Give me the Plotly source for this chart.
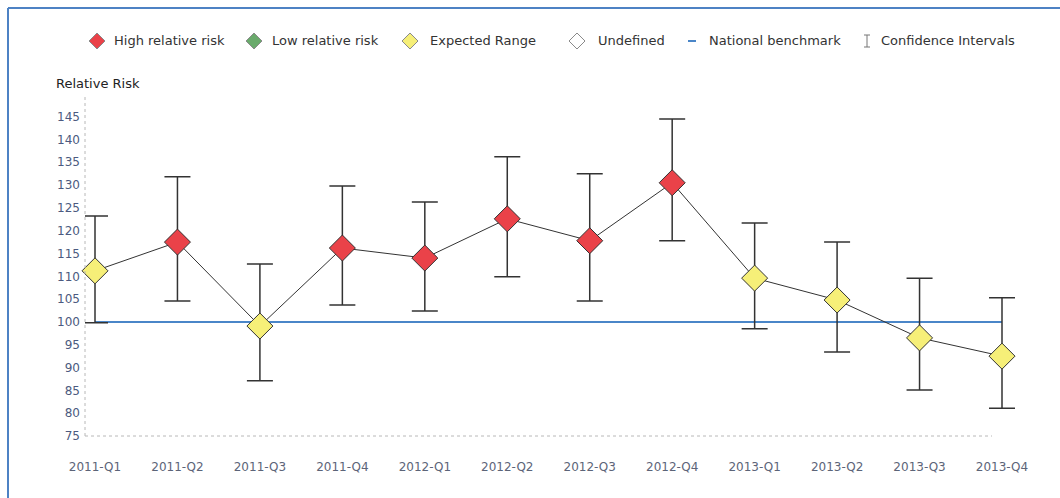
import plotly.graph_objects as go

# ---- data -------------------------------------------------------------
quarters = ["2011-Q1", "2011-Q2", "2011-Q3", "2011-Q4",
            "2012-Q1", "2012-Q2", "2012-Q3", "2012-Q4",
            "2013-Q1", "2013-Q2", "2013-Q3", "2013-Q4"]
relative_risk = [111.2, 117.5, 99.1, 116.2, 114.0, 122.6, 117.8, 130.5, 109.6, 104.8, 96.5, 92.5]
ci_upper = [123.2, 131.8, 112.7, 129.8, 126.3, 136.2, 132.5, 144.5, 121.7, 117.5, 109.6, 105.3]
ci_lower = [99.8, 104.6, 87.1, 103.7, 102.4, 109.9, 104.6, 117.8, 98.5, 93.4, 85.1, 81.1]
status = ["Expected", "High", "Expected", "High", "High", "High",
          "High", "High", "Expected", "Expected", "Expected", "Expected"]
benchmark = 100
y_ticks = [75, 80, 85, 90, 95, 100, 105, 110, 115, 120, 125, 130, 135, 140, 145]

legend_items = ["High relative risk", "Low relative risk", "Expected Range",
                "Undefined", "National benchmark", "Confidence Intervals"]

# ---- styling ----------------------------------------------------------
status_colors = {"High": "#ea4249", "Low": "#6aaa6c", "Expected": "#f6ef78", "Undefined": "#ffffff"}
FONT = "DejaVu Sans"
W, H = 1060, 498
L, R, T, B = 85, 30, 97, 62
PW, PH = W - L - R, H - T - B
STEP = 907 / 11          # pixels between neighbouring quarters


def px_x(px):
    return (px - L) / PW


def px_y(py):
    return (H - B - py) / PH


fig = go.Figure()

# national benchmark across all quarters
fig.add_trace(go.Scatter(
    x=quarters, y=[benchmark] * len(quarters), mode="lines",
    line=dict(color="#4a86c8", width=2), hoverinfo="skip", showlegend=False))

# connecting line
fig.add_trace(go.Scatter(
    x=quarters, y=relative_risk, mode="lines",
    line=dict(color="#333333", width=1), hoverinfo="skip", showlegend=False))

# diamonds with confidence intervals
fig.add_trace(go.Scatter(
    x=quarters, y=relative_risk, mode="markers",
    marker=dict(symbol="diamond", size=20,
                color=[status_colors[s] for s in status],
                line=dict(color="#333333", width=1)),
    error_y=dict(type="data", symmetric=False,
                 array=[u - v for u, v in zip(ci_upper, relative_risk)],
                 arrayminus=[v - lo for v, lo in zip(relative_risk, ci_lower)],
                 color="#333333", thickness=1.5, width=13),
    cliponaxis=False, showlegend=False))

shapes = []
annotations = []

# dotted axis lines
shapes.append(dict(type="line", xref="paper", yref="paper", x0=0, x1=px_x(992),
                   y0=0, y1=0, line=dict(color="#b8b8b8", width=1, dash="dot")))
shapes.append(dict(type="line", xref="paper", yref="paper", x0=0, x1=0,
                   y0=0, y1=1, line=dict(color="#b8b8b8", width=1, dash="dot")))

# outer frame (left and top)
shapes.append(dict(type="line", xref="paper", yref="paper", x0=px_x(8), x1=px_x(8),
                   y0=px_y(8), y1=px_y(498), line=dict(color="#4d82c4", width=2)))
shapes.append(dict(type="line", xref="paper", yref="paper", x0=px_x(8), x1=px_x(1060),
                   y0=px_y(8), y1=px_y(8), line=dict(color="#4d82c4", width=2)))

# legend row
leg_y = px_y(41)
diamond_path = "M 0,8 L 8,0 L 0,-8 L -8,0 Z"
icon_x = [97, 254, 410, 577, 692, 867]
text_x = [112, 270, 428, 596, 707, 879]
icon_colors = [status_colors["High"], status_colors["Low"],
               status_colors["Expected"], status_colors["Undefined"]]
for i, c in enumerate(icon_colors):
    shapes.append(dict(type="path", xref="paper", yref="paper",
                       xsizemode="pixel", ysizemode="pixel",
                       xanchor=px_x(icon_x[i]), yanchor=leg_y,
                       path=diamond_path, fillcolor=c,
                       line=dict(color="#8a8a8a", width=1)))
shapes.append(dict(type="line", xref="paper", yref="paper",
                   xsizemode="pixel", ysizemode="pixel",
                   xanchor=px_x(icon_x[4]), yanchor=leg_y,
                   x0=-4, x1=4, y0=0, y1=0, line=dict(color="#4a86c8", width=2)))
for (x0, x1, y0, y1) in [(0, 0, -6, 6), (-3, 3, 6, 6), (-3, 3, -6, -6)]:
    shapes.append(dict(type="line", xref="paper", yref="paper",
                       xsizemode="pixel", ysizemode="pixel",
                       xanchor=px_x(icon_x[5]), yanchor=leg_y,
                       x0=x0, x1=x1, y0=y0, y1=y1, line=dict(color="#777777", width=1)))
for label, tx in zip(legend_items, text_x):
    annotations.append(dict(text=label, xref="paper", yref="paper", x=px_x(tx), y=leg_y,
                            xanchor="left", yanchor="middle", showarrow=False,
                            font=dict(family=FONT, size=13, color="#333333")))

# y-axis title
annotations.append(dict(text="Relative Risk", xref="paper", yref="paper",
                        x=px_x(54), y=px_y(83), xanchor="left", yanchor="middle",
                        showarrow=False, font=dict(family=FONT, size=13, color="#222222")))

fig.update_layout(
    width=W, height=H,
    margin=dict(l=L, r=R, t=T, b=B),
    paper_bgcolor="white", plot_bgcolor="white",
    showlegend=False,
    shapes=shapes, annotations=annotations,
    xaxis=dict(type="category", categoryorder="array", categoryarray=quarters,
               range=[-10 / STEP, 11 + (W - R - 1002) / STEP],
               showgrid=False, zeroline=False, showline=False,
               ticks="", ticklabelstandoff=22,
               tickfont=dict(family=FONT, size=12, color="#5c6478")),
    yaxis=dict(range=[75, 149.3], tickvals=y_ticks, showgrid=False, zeroline=False,
               showline=False, ticks="", ticklabelstandoff=4,
               tickfont=dict(family=FONT, size=12, color="#4c5a80")),
)

fig.write_html("out.html")
